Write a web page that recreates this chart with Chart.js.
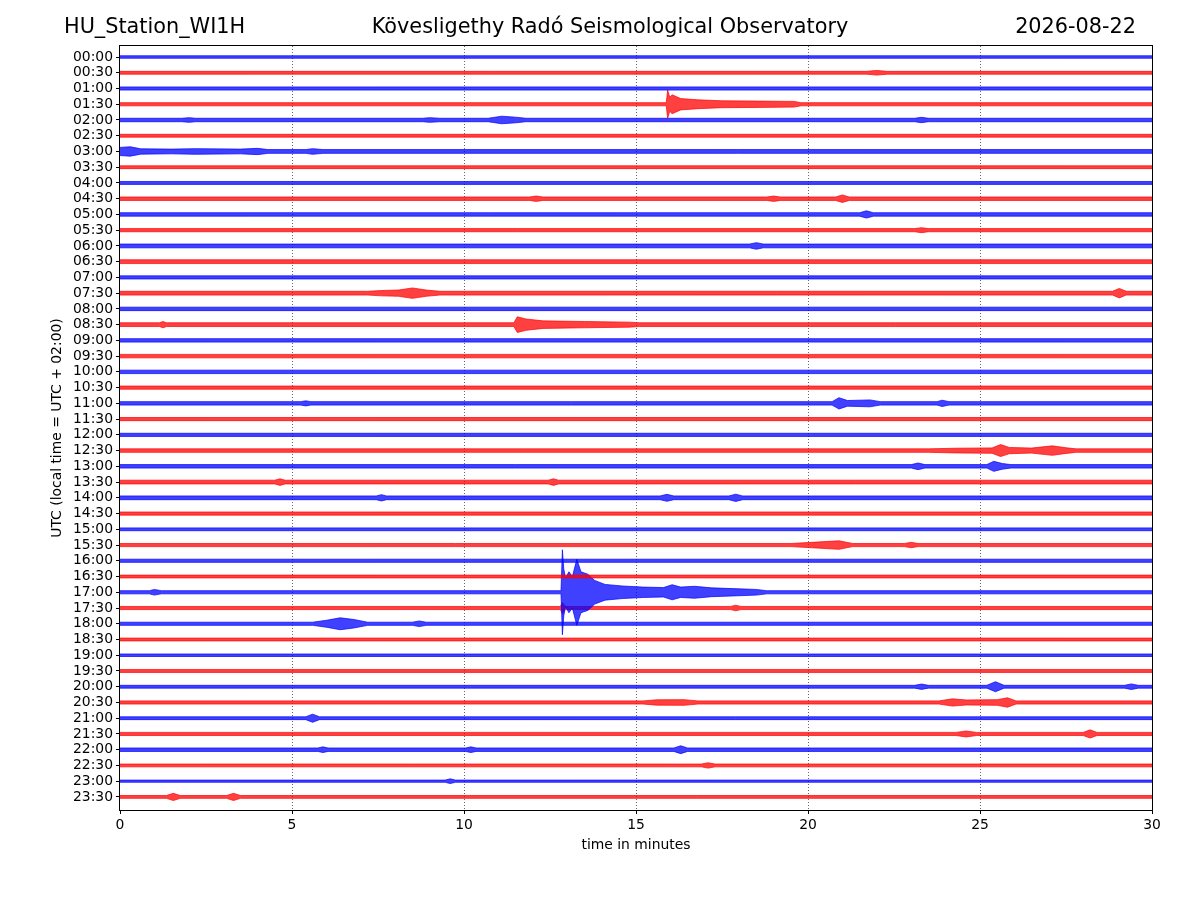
<!DOCTYPE html>
<html>
<head>
<meta charset="utf-8">
<title>HU_Station_WI1H dayplot</title>
<script src="https://cdn.jsdelivr.net/npm/chart.js@4/dist/chart.umd.min.js"></script>
<style>
  body { margin: 0; background: #fff; }
  #wrap { width: 1200px; height: 900px; }
</style>
</head>
<body>
<div id="wrap"><canvas id="heli" width="1200" height="900"></canvas></div>
<script>
// header texts
const stationName = 'HU_Station_WI1H';
const observatory = 'Kövesligethy Radó Seismological Observatory';
const dayLabel = '2026-08-22';
const xTitle = 'time in minutes';
const yTitle = 'UTC (local time = UTC + 02:00)';

// one trace per half hour, top to bottom
const traceLabels = [
  '00:00', '00:30', '01:00', '01:30', '02:00', '02:30', '03:00', '03:30',
  '04:00', '04:30', '05:00', '05:30', '06:00', '06:30', '07:00', '07:30',
  '08:00', '08:30', '09:00', '09:30', '10:00', '10:30', '11:00', '11:30',
  '12:00', '12:30', '13:00', '13:30', '14:00', '14:30', '15:00', '15:30',
  '16:00', '16:30', '17:00', '17:30', '18:00', '18:30', '19:00', '19:30',
  '20:00', '20:30', '21:00', '21:30', '22:00', '22:30', '23:00', '23:30'
];
const minuteTicks = [0, 5, 10, 15, 20, 25, 30];

// background noise half-amplitude of each trace (in trace spacings)
const noiseLevel = [
  0.08, 0.09, 0.10, 0.10, 0.11, 0.09, 0.12, 0.09,
  0.09, 0.11, 0.11, 0.10, 0.12, 0.12, 0.10, 0.12,
  0.11, 0.12, 0.11, 0.11, 0.11, 0.10, 0.11, 0.10,
  0.10, 0.11, 0.11, 0.12, 0.12, 0.10, 0.09, 0.10,
  0.10, 0.09, 0.10, 0.10, 0.10, 0.09, 0.08, 0.09,
  0.09, 0.10, 0.09, 0.10, 0.11, 0.09, 0.07, 0.09
];

// visible bursts: [trace, [[minute, half-amplitude], ...]]  (0 = back to noise level)
const bursts = [
  ['00:30', [[21.7, 0], [22.0, 0.15], [22.3, 0]]],
  ['01:30', [[15.88, 0], [15.92, 0.9], [15.98, 0.45], [16.05, 0.6], [16.3, 0.36], [16.8, 0.28],
             [17.5, 0.22], [18.6, 0.2], [19.6, 0.18], [19.8, 0]]],
  ['02:00', [[1.8, 0], [2.0, 0.15], [2.2, 0], [8.8, 0], [9.0, 0.15], [9.3, 0], [10.7, 0],
             [11.1, 0.24], [11.5, 0.18], [11.8, 0], [23.1, 0], [23.3, 0.17], [23.5, 0]]],
  ['03:00', [[0, 0.26], [0.3, 0.3], [0.6, 0.17], [1.5, 0.15], [2.2, 0.18], [3.5, 0.15],
             [4.0, 0.2], [4.3, 0], [5.4, 0], [5.6, 0.18], [5.9, 0]]],
  ['04:30', [[11.9, 0], [12.1, 0.17], [12.3, 0], [18.8, 0], [19.0, 0.17], [19.2, 0],
             [20.8, 0], [21.0, 0.24], [21.2, 0]]],
  ['05:00', [[21.5, 0], [21.7, 0.23], [21.9, 0]]],
  ['05:30', [[23.1, 0], [23.3, 0.16], [23.5, 0]]],
  ['06:00', [[18.3, 0], [18.5, 0.21], [18.7, 0]]],
  ['07:30', [[7.2, 0], [7.6, 0.17], [8.1, 0.2], [8.5, 0.33], [8.9, 0.2], [9.3, 0],
             [28.85, 0], [29.05, 0.3], [29.25, 0]]],
  ['08:30', [[1.15, 0], [1.25, 0.2], [1.35, 0], [11.45, 0], [11.55, 0.5], [11.8, 0.36],
             [12.3, 0.24], [13.5, 0.2], [14.8, 0.16], [15.1, 0]]],
  ['11:00', [[5.25, 0], [5.4, 0.16], [5.55, 0], [20.7, 0], [20.9, 0.36], [21.15, 0.18],
             [21.8, 0.22], [22.1, 0], [23.75, 0], [23.9, 0.2], [24.1, 0]]],
  ['12:30', [[23.5, 0], [24.3, 0.15], [25.35, 0.17], [25.6, 0.38], [25.85, 0.2], [26.5, 0.16],
             [27.1, 0.3], [27.5, 0.18], [27.8, 0]]],
  ['13:00', [[23.0, 0], [23.2, 0.21], [23.4, 0], [25.2, 0], [25.4, 0.32], [25.65, 0.18], [25.9, 0]]],
  ['13:30', [[4.5, 0], [4.65, 0.21], [4.8, 0], [12.45, 0], [12.6, 0.21], [12.75, 0]]],
  ['14:00', [[7.45, 0], [7.6, 0.2], [7.75, 0], [15.7, 0], [15.9, 0.22], [16.1, 0],
             [17.7, 0], [17.9, 0.23], [18.1, 0]]],
  ['15:30', [[19.5, 0], [20.1, 0.17], [20.9, 0.27], [21.3, 0], [22.8, 0], [23.0, 0.17], [23.2, 0]]],
  ['17:00', [[0.85, 0], [1.0, 0.18], [1.2, 0], [12.82, 0], [12.86, 2.7], [12.9, 1.5], [12.95, 0.9],
             [13.05, 1.3], [13.15, 1.0], [13.28, 2.1], [13.4, 1.3], [13.6, 1.15], [13.8, 0.75],
             [14.1, 0.5], [14.6, 0.4], [15.2, 0.33], [15.8, 0.3], [16.05, 0.48], [16.3, 0.33],
             [16.7, 0.38], [17.2, 0.28], [18.0, 0.22], [18.5, 0.18], [18.8, 0]]],
  ['17:30', [[12.8, 0], [12.86, 0.35], [12.95, 0], [17.75, 0], [17.9, 0.18], [18.05, 0]]],
  ['18:00', [[5.6, 0], [6.0, 0.22], [6.4, 0.38], [6.8, 0.27], [7.2, 0], [8.5, 0], [8.7, 0.18], [8.9, 0]]],
  ['20:00', [[23.1, 0], [23.3, 0.17], [23.5, 0], [25.2, 0], [25.45, 0.32], [25.7, 0],
             [29.2, 0], [29.4, 0.18], [29.6, 0]]],
  ['20:30', [[15.2, 0], [15.6, 0.17], [16.4, 0.18], [16.8, 0], [23.8, 0], [24.2, 0.23],
             [24.6, 0.16], [25.5, 0.18], [25.8, 0.3], [26.05, 0]]],
  ['21:00', [[5.4, 0], [5.6, 0.26], [5.8, 0]]],
  ['21:30', [[24.3, 0], [24.6, 0.19], [24.9, 0], [28.0, 0], [28.2, 0.26], [28.4, 0]]],
  ['22:00', [[5.75, 0], [5.9, 0.18], [6.05, 0], [10.05, 0], [10.2, 0.18], [10.35, 0],
             [16.1, 0], [16.3, 0.25], [16.5, 0]]],
  ['22:30', [[16.9, 0], [17.1, 0.17], [17.3, 0]]],
  ['23:00', [[9.45, 0], [9.6, 0.15], [9.75, 0]]],
  ['23:30', [[1.35, 0], [1.55, 0.23], [1.75, 0], [3.1, 0], [3.3, 0.23], [3.5, 0]]]
];

const traceColors = ['#0000ff', '#ff0000'];
const traceFills = ['rgba(0, 0, 255, 0.75)', 'rgba(255, 0, 0, 0.75)'];

// envelope of one trace: noise level everywhere, bursts where listed
function envelope(i) {
  const base = noiseLevel[i];
  const found = bursts.find(b => b[0] === traceLabels[i]);
  let pts = found ? found[1].slice() : [];
  if (!pts.length || pts[0][0] > 0) pts.unshift([0, 0]);
  if (pts[pts.length - 1][0] < 30) pts.push([30, 0]);
  return pts.map(p => [p[0], Math.max(base, p[1])]);
}

const datasets = [];
traceLabels.forEach((lab, i) => {
  const env = envelope(i);
  const c = i % 2;
  datasets.push({
    label: lab + ' top',
    data: env.map(p => ({ x: p[0], y: i - p[1] })),
    borderColor: traceColors[c],
    borderWidth: 0.7,
    pointRadius: 0,
    fill: false
  });
  datasets.push({
    label: lab + ' bottom',
    data: env.map(p => ({ x: p[0], y: i + p[1] })),
    borderColor: traceColors[c],
    borderWidth: 0.7,
    pointRadius: 0,
    backgroundColor: traceFills[c],
    fill: '-1'
  });
});

// frame, header and axis titles (matplotlib style)
const decorPlugin = {
  id: 'decor',
  afterDraw(chart) {
    const { ctx, chartArea: a } = chart;
    ctx.save();
    ctx.strokeStyle = '#000';
    ctx.lineWidth = 1;
    ctx.strokeRect(Math.round(a.left) - 0.5, Math.round(a.top) - 0.5,
      Math.round(a.right - a.left) + 1, Math.round(a.bottom - a.top) + 1);

    ctx.fillStyle = '#000';
    ctx.textBaseline = 'middle';
    ctx.font = '20.8px "DejaVu Sans"';
    ctx.textAlign = 'left';
    ctx.fillText(stationName, 64, 28);
    ctx.textAlign = 'center';
    ctx.fillText(observatory, 610, 28);
    ctx.textAlign = 'right';
    ctx.fillText(dayLabel, 1136, 28);

    ctx.font = '13.9px "DejaVu Sans"';
    ctx.textAlign = 'center';
    ctx.fillText(xTitle, (a.left + a.right) / 2, 845);
    ctx.translate(57, (a.top + a.bottom) / 2);
    ctx.rotate(-Math.PI / 2);
    ctx.fillText(yTitle, 0, 0);
    ctx.restore();
  }
};

new Chart(document.getElementById('heli'), {
  type: 'line',
  data: { datasets: datasets },
  options: {
    responsive: false,
    animation: false,
    events: [],
    layout: { padding: { top: 46, right: 48, bottom: 0, left: 0 } },
    elements: { line: { tension: 0 } },
    plugins: {
      legend: { display: false },
      tooltip: { enabled: false },
      filler: { propagate: false }
    },
    scales: {
      x: {
        type: 'linear',
        min: 0,
        max: 30,
        afterFit: s => { s.height = 90; },
        afterBuildTicks: s => { s.ticks = minuteTicks.map(v => ({ value: v })); },
        ticks: {
          color: '#000',
          font: { family: 'DejaVu Sans', size: 13.9 },
          padding: 3,
          maxRotation: 0
        },
        grid: {
          color: ctx => (ctx.tick && (ctx.tick.value === 0 || ctx.tick.value === 30)) ? 'rgba(0,0,0,0)' : '#000',
          lineWidth: 0.6,
          tickColor: '#000',
          tickLength: 4,
          tickWidth: 1,
          tickBorderDash: []
        },
        border: { display: false, dash: [1, 2] }
      },
      y: {
        type: 'linear',
        reverse: true,
        min: -0.70,
        max: 47.83,
        afterFit: s => { s.width = 120; },
        afterBuildTicks: s => { s.ticks = traceLabels.map((_, i) => ({ value: i })); },
        ticks: {
          color: '#000',
          font: { family: 'DejaVu Sans', size: 13.9 },
          padding: 3,
          autoSkip: false,
          callback: v => traceLabels[v] !== undefined ? traceLabels[v] : ''
        },
        grid: {
          drawOnChartArea: false,
          tickColor: '#000',
          tickLength: 4,
          tickWidth: 1
        },
        border: { display: false }
      }
    }
  },
  plugins: [decorPlugin]
});
</script>
</body>
</html>
